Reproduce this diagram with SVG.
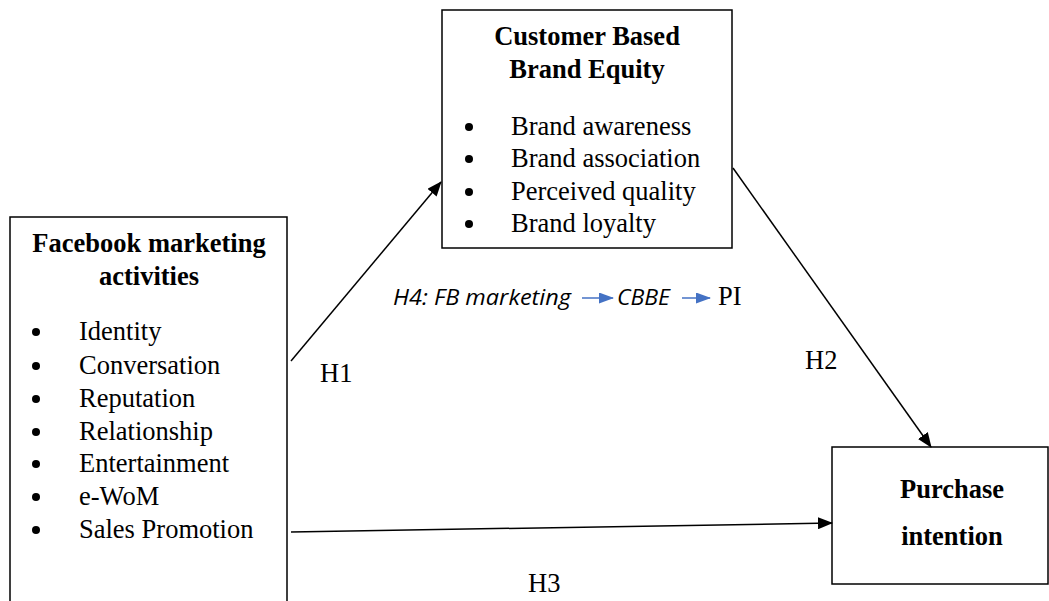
<svg xmlns="http://www.w3.org/2000/svg" width="1049" height="601" viewBox="0 0 1049 601">
<style>
.box{fill:#fff;stroke:#000;stroke-width:1.5}
.t{font-family:"Liberation Serif",serif;font-size:26.5px;fill:#000}
.b{font-weight:bold}
.c{stroke:#000;stroke-width:1.5;fill:none}
.h4{font-family:"Open Sans","Liberation Sans",sans-serif;font-style:italic;font-size:22px;fill:#000}
</style>
<defs>
<marker id="ah" markerWidth="15" markerHeight="12" refX="14" refY="6" orient="auto" markerUnits="userSpaceOnUse">
<path d="M0,0 L15,6 L0,12 z" fill="#000"/>
</marker>
<marker id="bh" markerWidth="15" markerHeight="11" refX="14" refY="5.5" orient="auto" markerUnits="userSpaceOnUse">
<path d="M0,0 L15,5.5 L0,11 z" fill="#4472C4"/>
</marker>
</defs>
<g id="facebook">
<path class="box" d="M10,601 L10,217 L287,217 L287,601"/>
<text class="t b" x="149" y="252" text-anchor="middle">Facebook marketing</text>
<text class="t b" x="149" y="285" text-anchor="middle">activities</text>
<g class="t">
<circle cx="36" cy="332" r="4"/><text x="79" y="340">Identity</text>
<circle cx="36" cy="366" r="4"/><text x="79" y="374">Conversation</text>
<circle cx="36" cy="399" r="4"/><text x="79" y="407">Reputation</text>
<circle cx="36" cy="432" r="4"/><text x="79" y="440">Relationship</text>
<circle cx="36" cy="464" r="4"/><text x="79" y="472">Entertainment</text>
<circle cx="36" cy="497" r="4"/><text x="79" y="505">e-WoM</text>
<circle cx="36" cy="530" r="4"/><text x="79" y="538">Sales Promotion</text>
</g>
</g>
<g id="cbbe">
<rect class="box" x="442" y="10" width="290" height="238"/>
<text class="t b" x="587" y="45" text-anchor="middle">Customer Based</text>
<text class="t b" x="587" y="78" text-anchor="middle">Brand Equity</text>
<g class="t">
<circle cx="469" cy="127" r="4"/><text x="511" y="135">Brand awareness</text>
<circle cx="469" cy="159" r="4"/><text x="511" y="167">Brand association</text>
<circle cx="469" cy="192" r="4"/><text x="511" y="200">Perceived quality</text>
<circle cx="469" cy="224" r="4"/><text x="511" y="232">Brand loyalty</text>
</g>
</g>
<g id="purchase">
<rect class="box" x="832" y="447" width="216" height="137"/>
<text class="t b" x="952" y="498" text-anchor="middle">Purchase</text>
<text class="t b" x="952" y="545" text-anchor="middle">intention</text>
</g>
<g id="connectors">
<line class="c" x1="291" y1="361" x2="441" y2="182" marker-end="url(#ah)"/>
<line class="c" x1="733" y1="168" x2="931" y2="447" marker-end="url(#ah)"/>
<line class="c" x1="291" y1="532" x2="832" y2="523" marker-end="url(#ah)"/>
</g>
<g id="labels">
<text class="t" x="320" y="382">H1</text>
<text class="t" x="805" y="369">H2</text>
<text class="t" x="528" y="592">H3</text>
<text class="h4" x="393" y="305" textLength="178" lengthAdjust="spacingAndGlyphs">H4: FB marketing</text>
<line x1="582" y1="298" x2="613" y2="298" stroke="#4472C4" stroke-width="1.5" marker-end="url(#bh)"/>
<text class="h4" x="617" y="305" textLength="53" lengthAdjust="spacingAndGlyphs">CBBE</text>
<line x1="682" y1="298" x2="710" y2="298" stroke="#4472C4" stroke-width="1.5" marker-end="url(#bh)"/>
<text class="t" x="718" y="305">PI</text>
</g>
</svg>
